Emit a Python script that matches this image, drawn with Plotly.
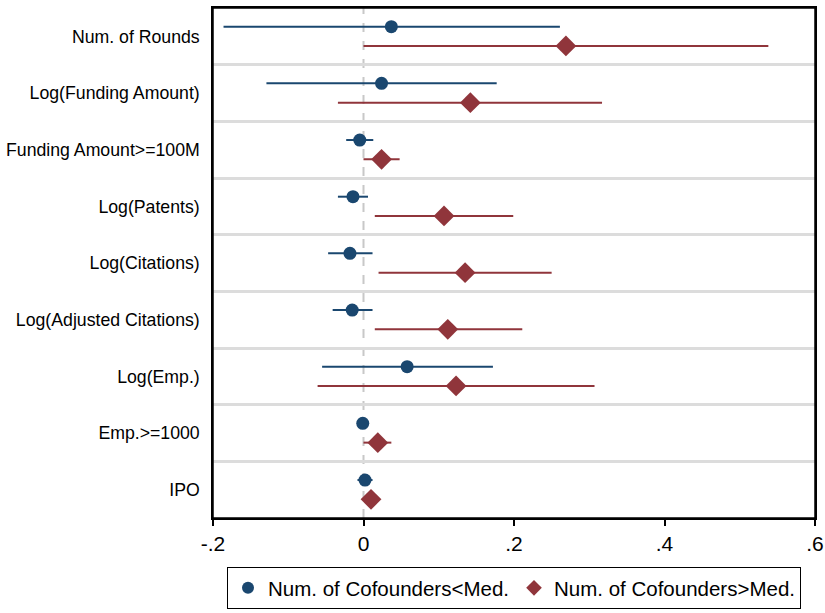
import plotly.graph_objects as go

categories = ["Num. of Rounds", "Log(Funding Amount)", "Funding Amount>=100M",
              "Log(Patents)", "Log(Citations)", "Log(Adjusted Citations)",
              "Log(Emp.)", "Emp.>=1000", "IPO"]

low_coef = [0.037, 0.024, -0.005, -0.014, -0.018, -0.015, 0.058, -0.001, 0.002]
low_lo   = [-0.186, -0.129, -0.023, -0.034, -0.047, -0.041, -0.055, -0.003, -0.008]
low_hi   = [0.261, 0.177, 0.013, 0.006, 0.012, 0.012, 0.172, 0.002, 0.012]

high_coef = [0.269, 0.142, 0.024, 0.107, 0.135, 0.112, 0.123, 0.019, 0.010]
high_lo   = [0.000, -0.034, 0.000, 0.015, 0.020, 0.015, -0.061, 0.000, 0.004]
high_hi   = [0.538, 0.317, 0.048, 0.199, 0.250, 0.211, 0.307, 0.037, 0.016]

x_ticks = [-0.2, 0, 0.2, 0.4, 0.6]
x_tick_labels = ["-.2", "0", ".2", ".4", ".6"]

BLUE = "#1a476f"
RED = "#90353b"
off = 0.17
rows = list(range(1, len(categories) + 1))

fig = go.Figure()
fig.add_trace(go.Scatter(
    x=low_coef, y=[r - off for r in rows], mode="markers",
    name="Num. of Cofounders<Med.",
    marker=dict(symbol="circle", size=13, color=BLUE),
    error_x=dict(type="data", symmetric=False,
                 array=[h - c for h, c in zip(low_hi, low_coef)],
                 arrayminus=[c - l for c, l in zip(low_coef, low_lo)],
                 color=BLUE, thickness=2, width=0),
))
fig.add_trace(go.Scatter(
    x=high_coef, y=[r + off for r in rows], mode="markers",
    name="Num. of Cofounders>Med.",
    marker=dict(symbol="diamond", size=16, color=RED),
    error_x=dict(type="data", symmetric=False,
                 array=[h - c for h, c in zip(high_hi, high_coef)],
                 arrayminus=[c - l for c, l in zip(high_coef, high_lo)],
                 color=RED, thickness=2, width=0),
))

fig.add_vline(x=0, line=dict(color="#c8c8c8", width=2, dash="dash"), layer="below")
# plot frame
fig.add_shape(type="rect", xref="paper", yref="paper", x0=0, x1=1, y0=0, y1=1,
              line=dict(color="black", width=1.5), fillcolor="rgba(0,0,0,0)", layer="above")

fig.update_layout(
    width=825, height=613,
    margin=dict(l=213, r=10, t=8, b=95, autoexpand=False),
    paper_bgcolor="white", plot_bgcolor="white",
    font=dict(family="Liberation Sans, Arial, sans-serif", color="black"),
    showlegend=True,
    legend=dict(orientation="h", x=0.5, xanchor="center",
                yref="container", y=(613 - 588) / 613, yanchor="middle",
                bordercolor="black", borderwidth=1, font=dict(size=20.5),
                itemwidth=30, itemsizing="constant", tracegroupgap=0),
)
fig.update_xaxes(
    range=[-0.2, 0.6], tickvals=x_ticks, ticktext=x_tick_labels,
    ticks="outside", ticklen=6, tickwidth=1.5, tickcolor="black",
    tickfont=dict(size=21), showgrid=False, zeroline=False, automargin=False,
    showline=True, linecolor="black", linewidth=1.5, mirror=True,
)
fig.update_yaxes(
    range=[9.5, 0.5], tickvals=rows, ticktext=categories,
    ticks="", tickfont=dict(size=17.7), showgrid=False, zeroline=False, automargin=False,
    showline=True, linecolor="black", linewidth=1.5, mirror=True,
    ticklabelstandoff=8,
    minor=dict(tick0=0.5, dtick=1, showgrid=True, gridcolor="#dcdcdc", gridwidth=2.5, ticks=""),
)

fig.write_html("out.html", config={"displayModeBar": False},
               post_script="document.body.style.margin='0';")
